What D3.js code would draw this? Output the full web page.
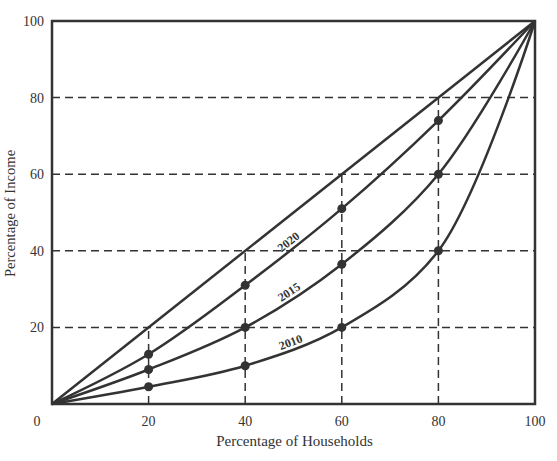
<!DOCTYPE html>
<html>
<head>
<meta charset="utf-8">
<script src="https://cdn.jsdelivr.net/npm/d3@7"></script>
<style>
  body { margin: 0; background: #fff; }
  text { font-family: "Liberation Serif", "DejaVu Serif", serif; fill: #333; }
</style>
</head>
<body>
<div id="chart"></div>
<script>
// household share (x) and income share by year
var households = [0, 20, 40, 60, 80, 100];
var income2020 = [0, 13, 31, 51, 74, 100];
var income2015 = [0, 9, 20, 36.5, 60, 100];
var income2010 = [0, 4.5, 10, 20, 40, 100];
var years = ["2020", "2015", "2010"];
var gridTicks = [20, 40, 60, 80];
var xTicks = [20, 40, 60, 80, 100];
var yTicks = [20, 40, 60, 80, 100];

var svgWidth = 557, svgHeight = 461;
var margin = { top: 21, right: 22, bottom: 57, left: 52 };
var width = svgWidth - margin.left - margin.right;
var height = svgHeight - margin.top - margin.bottom;
var ink = "#333";

var svg = d3.select("#chart").append("svg")
    .attr("width", svgWidth)
    .attr("height", svgHeight);
var g = svg.append("g")
    .attr("transform", `translate(${margin.left}, ${margin.top})`);

var x = d3.scaleLinear().domain([0, 100]).range([0, width]);
var y = d3.scaleLinear().domain([0, 100]).range([height, 0]);

// dashed grid: horizontal lines full width, vertical ones up to the diagonal
g.selectAll(".hgrid").data(gridTicks).enter().append("line")
    .attr("x1", 0).attr("x2", width)
    .attr("y1", d => y(d)).attr("y2", d => y(d))
    .attr("stroke", ink).attr("stroke-width", 1.5)
    .attr("stroke-dasharray", "8,5");
g.selectAll(".vgrid").data(gridTicks).enter().append("line")
    .attr("x1", d => x(d)).attr("x2", d => x(d))
    .attr("y1", height).attr("y2", d => y(d))
    .attr("stroke", ink).attr("stroke-width", 1.5)
    .attr("stroke-dasharray", "8,5");

// line of equality
g.append("line")
    .attr("x1", x(0)).attr("y1", y(0))
    .attr("x2", x(100)).attr("y2", y(100))
    .attr("stroke", ink).attr("stroke-width", 2.5);

var series = [income2020, income2015, income2010];
var line = d3.line()
    .x((d, i) => x(households[i]))
    .y(d => y(d))
    .curve(d3.curveCatmullRom.alpha(0.5));

series.forEach(function(vals, k) {
    var path = g.append("path")
        .datum(vals)
        .attr("d", line)
        .attr("fill", "none")
        .attr("stroke", ink)
        .attr("stroke-width", 2.5);

    g.selectAll(".dot" + k).data(vals.slice(1, 5)).enter().append("circle")
        .attr("cx", (d, i) => x(households[i + 1]))
        .attr("cy", d => y(d))
        .attr("r", 4.5)
        .attr("fill", ink);

    // find point on curve at x=50 and the tangent there
    var node = path.node(), len = node.getTotalLength();
    var lo = 0, hi = len, tx = x(50);
    for (var it = 0; it < 40; it++) {
        var mid = (lo + hi) / 2;
        if (node.getPointAtLength(mid).x < tx) lo = mid; else hi = mid;
    }
    var p = node.getPointAtLength(lo);
    var p2 = node.getPointAtLength(Math.min(len, lo + 3));
    var p1 = node.getPointAtLength(Math.max(0, lo - 3));
    var ang = Math.atan2(p2.y - p1.y, p2.x - p1.x) * 180 / Math.PI;
    g.append("text")
        .attr("transform", `translate(${p.x},${p.y}) rotate(${ang}) translate(0,-4)`)
        .attr("text-anchor", "middle")
        .attr("font-size", 12)
        .attr("font-weight", "bold")
        .text(years[k]);
});

// frame
g.append("rect")
    .attr("x", 0).attr("y", 0)
    .attr("width", width).attr("height", height)
    .attr("fill", "none")
    .attr("stroke", ink).attr("stroke-width", 2.5);

// tick labels
g.selectAll(".xt").data(xTicks).enter().append("text")
    .attr("x", d => x(d)).attr("y", height + 22)
    .attr("text-anchor", "middle")
    .attr("font-size", 14)
    .text(d => d);
g.selectAll(".yt").data(yTicks).enter().append("text")
    .attr("x", -8).attr("y", d => y(d) + 5)
    .attr("text-anchor", "end")
    .attr("font-size", 14)
    .text(d => d);
g.append("text")
    .attr("x", -15).attr("y", height + 22)
    .attr("text-anchor", "middle")
    .attr("font-size", 14)
    .text("0");

// axis titles
g.append("text")
    .attr("x", width / 2 + 1).attr("y", height + 42)
    .attr("text-anchor", "middle")
    .attr("font-size", 15)
    .text("Percentage of Households");
g.append("text")
    .attr("transform", `translate(-37, ${height / 2 + 1}) rotate(-90)`)
    .attr("text-anchor", "middle")
    .attr("font-size", 14.6)
    .text("Percentage of Income");
</script>
</body>
</html>
